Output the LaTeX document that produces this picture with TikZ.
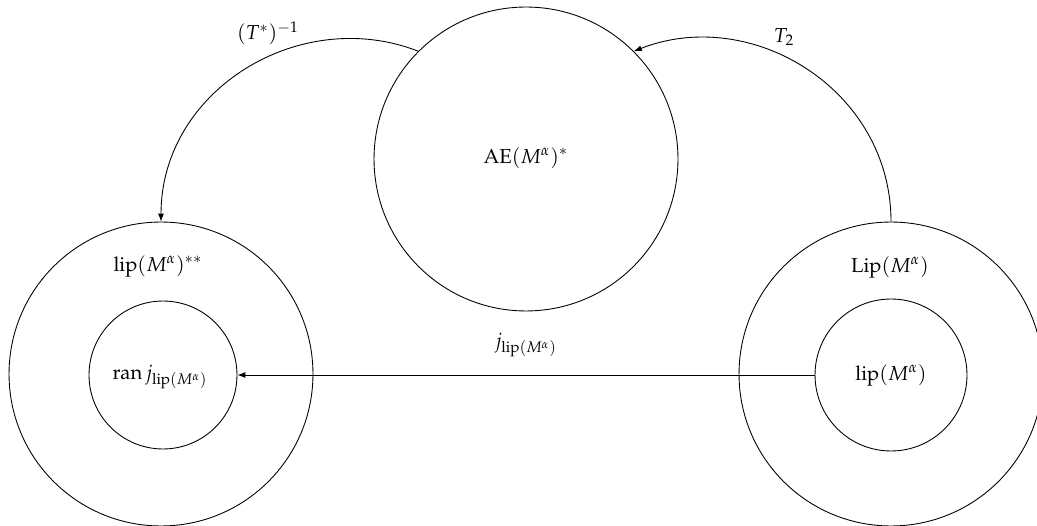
\documentclass[tikz,border=0pt]{standalone}
\usepackage[T1]{fontenc}
\usepackage{mathpazo}
\usetikzlibrary{arrows.meta}
\begin{document}
\begin{tikzpicture}[x=0.02cm,y=-0.02cm,
  ring/.style={draw,circle,inner sep=0pt,line width=0.5pt},
  lbl/.style={inner sep=0pt,font=\fontsize{11.5}{14}\selectfont},
  arr/.style={draw,line width=0.5pt,-{Latex[length=1.6mm,width=1.2mm]}}]
\clip (0,0) rectangle (1037,526);
\useasboundingbox (0,0) rectangle (1037,526);
\node[ring,minimum size=6.08cm] (top) at (526,159) {};
\node[ring,minimum size=6.08cm] (lo) at (161,374) {};
\node[ring,minimum size=2.96cm] (li) at (163,375) {};
\node[ring,minimum size=6.08cm] (ro) at (891,374) {};
\node[ring,minimum size=3.04cm] (ri) at (891,375) {};
\node[lbl] (ttop) at (526,158) {$\mathrm{AE}(M^\alpha)^*$};
\node[lbl] (tlo) at (158,266) {$\mathrm{lip}(M^\alpha)^{**}$};
\node[lbl] (tli) at (160,377) {$\mathrm{ran}\, j_{\mathrm{lip}(M^\alpha)}$};
\node[lbl] (tro) at (890,267) {$\mathrm{Lip}(M^\alpha)$};
\node[lbl] (tri) at (891,375) {$\mathrm{lip}(M^\alpha)$};
\draw[arr] (top.135) .. controls (300,5) and (161,90) .. (lo.north);
\node[lbl] (l1) at (268,33) {$(T^*)^{-1}$};
\draw[arr] (ro.north) .. controls (891,90) and (752,5) .. (top.45);
\node[lbl] (l2) at (784,37) {$T_2$};
\draw[arr] (ri.west) -- (li.east);
\node[lbl] (l3) at (526,345) {$j_{\mathrm{lip}(M^\alpha)}$};
\end{tikzpicture}
\end{document}
